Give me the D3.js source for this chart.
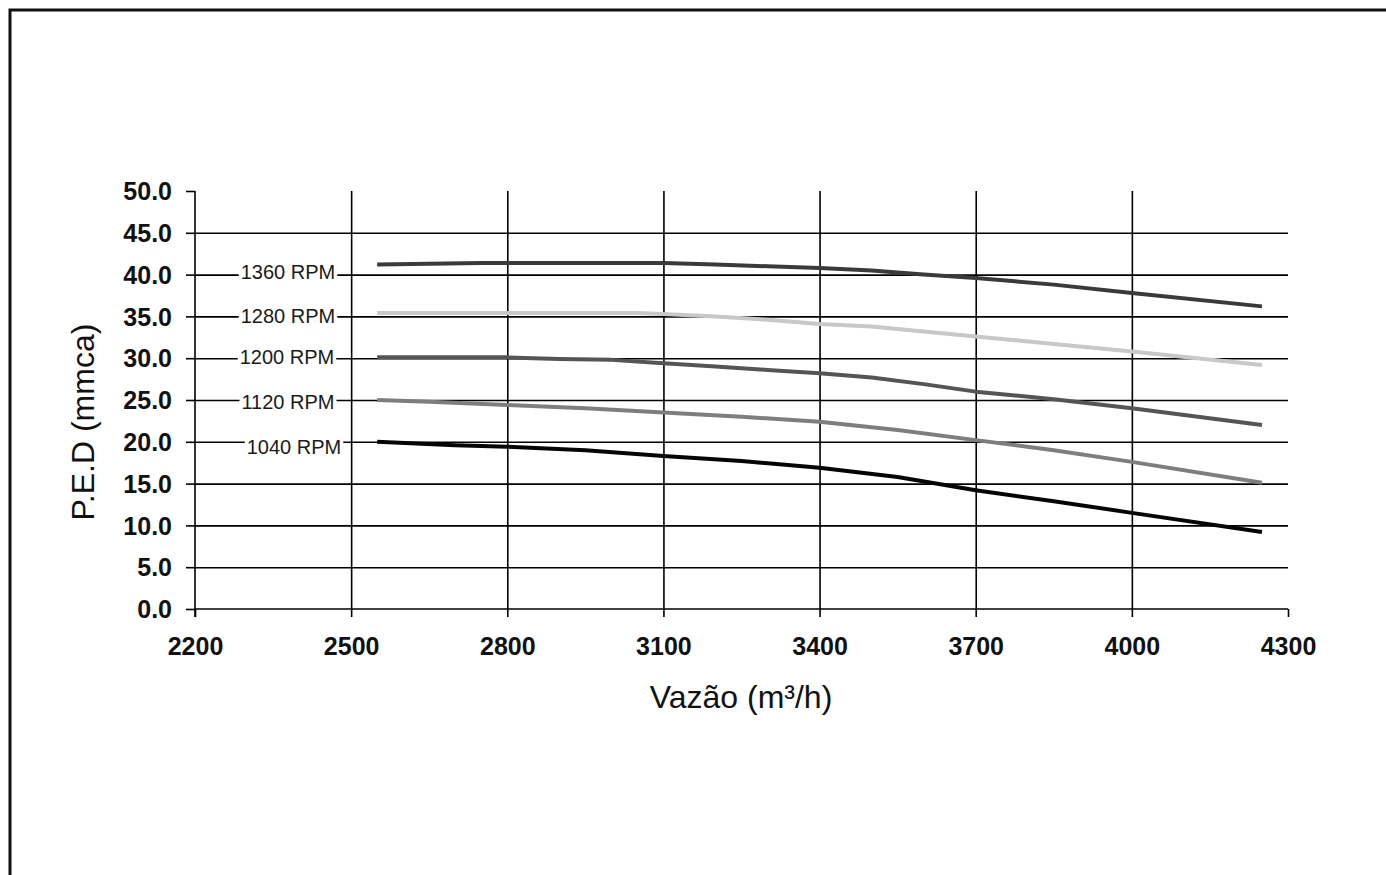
<!DOCTYPE html>
<html>
<head>
<meta charset="utf-8">
<script src="https://cdn.jsdelivr.net/npm/d3@7"></script>
<style>
  html, body { margin: 0; padding: 0; background: #fff; }
  svg { display: block; }
</style>
</head>
<body>
<svg id="chart" width="1386" height="875"></svg>
<script>
// ---- data ----
const xTicks = [2200, 2500, 2800, 3100, 3400, 3700, 4000, 4300];
const yTicks = [0, 5, 10, 15, 20, 25, 30, 35, 40, 45, 50];
const seriesNames = ["1360 RPM", "1280 RPM", "1200 RPM", "1120 RPM", "1040 RPM"];
const labelLevels = [40, 35, 30, 25, 20];

const x1360 = [2550, 2750, 2800, 3100, 3200, 3300, 3400, 3500, 3600, 3700, 3850, 4000, 4250];
const y1360 = [41.2, 41.4, 41.4, 41.4, 41.2, 41.0, 40.8, 40.5, 40.0, 39.6, 38.8, 37.8, 36.2];
const x1280 = [2550, 2800, 3050, 3100, 3200, 3300, 3400, 3500, 3600, 3700, 3850, 4000, 4250];
const y1280 = [35.4, 35.4, 35.4, 35.3, 35.0, 34.6, 34.1, 33.8, 33.2, 32.6, 31.7, 30.8, 29.2];
const x1200 = [2550, 2800, 2900, 3000, 3100, 3200, 3300, 3400, 3500, 3600, 3700, 3850, 4000, 4250];
const y1200 = [30.1, 30.1, 29.9, 29.8, 29.4, 29.0, 28.6, 28.2, 27.7, 26.9, 26.0, 25.1, 24.0, 22.0];
const x1120 = [2550, 2650, 2800, 2950, 3100, 3250, 3400, 3550, 3700, 3850, 4000, 4250];
const y1120 = [25.0, 24.8, 24.4, 24.0, 23.5, 23.0, 22.4, 21.4, 20.2, 19.0, 17.6, 15.1];
const x1040 = [2550, 2700, 2800, 2950, 3100, 3250, 3400, 3550, 3700, 3850, 4000, 4250];
const y1040 = [20.0, 19.6, 19.4, 19.0, 18.3, 17.7, 16.9, 15.8, 14.2, 12.9, 11.5, 9.2];

const seriesX = [x1360, x1280, x1200, x1120, x1040];
const seriesY = [y1360, y1280, y1200, y1120, y1040];
const seriesColors = ["#3a3a3a", "#c8c8c8", "#555555", "#7e7e7e", "#050505"];

// ---- layout ----
const svg = d3.select("#chart");
const pLeft = 195, pRight = 1288, pTop = 191, pBottom = 609;

const x = d3.scaleLinear().domain([2200, 4300]).range([pLeft, pRight]);
const y = d3.scaleLinear().domain([0, 50]).range([pBottom, pTop]);

// outer border
svg.append("rect")
  .attr("x", 10).attr("y", 10)
  .attr("width", 1400).attr("height", 900)
  .attr("fill", "none").attr("stroke", "#111").attr("stroke-width", 3);

const tickFont = "'Liberation Sans', Arial, sans-serif";

// horizontal gridlines
const hGrid = svg.append("g").attr("transform", `translate(${pLeft},0)`)
  .call(d3.axisLeft(y).tickValues(yTicks.filter(v => v > 0 && v < 50))
    .tickSize(-(pRight - pLeft)).tickFormat(""));
hGrid.select(".domain").remove();
hGrid.selectAll("line").attr("stroke", "#000").attr("stroke-width", 1.6);

// vertical gridlines
const vGrid = svg.append("g").attr("transform", `translate(0,${pBottom})`)
  .call(d3.axisBottom(x).tickValues(xTicks.filter(v => v > 2200 && v < 4300))
    .tickSize(-(pBottom - pTop)).tickFormat(""));
vGrid.select(".domain").remove();
vGrid.selectAll("line").attr("stroke", "#000").attr("stroke-width", 1.6);

// y axis
const yAxis = svg.append("g").attr("transform", `translate(${pLeft},0)`)
  .call(d3.axisLeft(y).tickValues(yTicks).tickSize(9).tickPadding(14)
    .tickFormat(d3.format(".1f")));
yAxis.select(".domain").attr("d", `M0,${pTop}V${pBottom + 8}`).attr("stroke", "#000").attr("stroke-width", 1.6);
yAxis.selectAll(".tick line").attr("stroke", "#000").attr("stroke-width", 1.6);
yAxis.selectAll("text")
  .attr("font-family", tickFont).attr("font-weight", "bold")
  .attr("font-size", 25).attr("fill", "#111").attr("dy", "0.35em");

// x axis
const xAxis = svg.append("g").attr("transform", `translate(0,${pBottom})`)
  .call(d3.axisBottom(x).tickValues(xTicks).tickSize(8).tickPadding(20)
    .tickFormat(d3.format("d")));
xAxis.select(".domain").attr("d", `M${pLeft},0H${pRight}`).attr("stroke", "#000").attr("stroke-width", 1.6);
xAxis.selectAll(".tick line").attr("stroke", "#000").attr("stroke-width", 1.6);
xAxis.selectAll("text")
  .attr("font-family", tickFont).attr("font-weight", "bold")
  .attr("font-size", 25).attr("fill", "#111");

// series lines
const line = d3.line().x(d => x(d[0])).y(d => y(d[1])).curve(d3.curveLinear);
seriesNames.forEach((name, i) => {
  const pts = seriesX[i].map((v, j) => [v, seriesY[i][j]]);
  svg.append("path")
    .attr("d", line(pts))
    .attr("fill", "none")
    .attr("stroke", seriesColors[i])
    .attr("stroke-width", 4)
    .attr("stroke-linejoin", "round");
});

// series labels on gridlines
const labelOffsets = [-3, 0, -1, 2, 5];
const labelShift = [0, 0, -1, 0, 6];
seriesNames.forEach((name, i) => {
  const g = svg.append("g");
  const t = g.append("text")
    .attr("x", 288 + labelShift[i])
    .attr("y", y(labelLevels[i]) + labelOffsets[i])
    .attr("dy", "0.35em")
    .attr("text-anchor", "middle")
    .attr("font-family", "'Liberation Sans', Arial, sans-serif")
    .attr("font-size", 20)
    .attr("fill", "#1a1a1a")
    .text(name);
  const bb = t.node().getBBox();
  g.insert("rect", "text")
    .attr("x", bb.x - 2).attr("y", bb.y + 2)
    .attr("width", bb.width + 4).attr("height", bb.height - 4)
    .attr("fill", "#fff");
});

// axis titles
svg.append("text")
  .attr("x", 741).attr("y", 708)
  .attr("text-anchor", "middle")
  .attr("font-family", "'Liberation Sans', Arial, sans-serif")
  .attr("font-size", 32)
  .attr("fill", "#111")
  .text("Vazão (m³/h)");

svg.append("text")
  .attr("transform", "translate(94,422) rotate(-90)")
  .attr("text-anchor", "middle")
  .attr("font-family", "'Liberation Sans', Arial, sans-serif")
  .attr("font-size", 32)
  .attr("fill", "#111")
  .text("P.E.D (mmca)");
</script>
</body>
</html>
